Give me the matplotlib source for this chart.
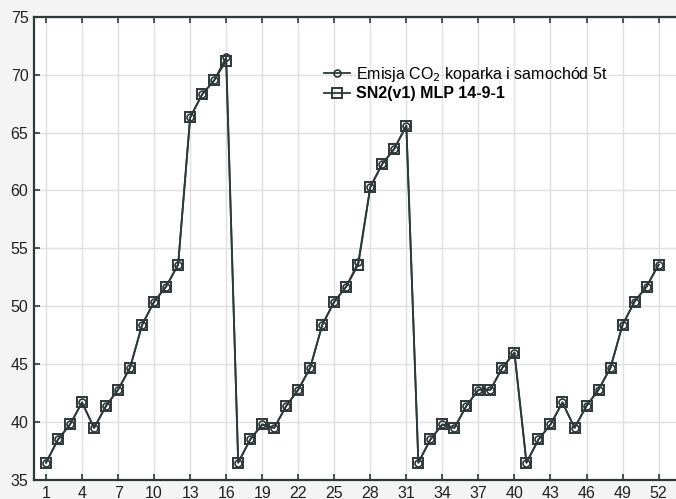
import matplotlib
matplotlib.use("Agg")
import matplotlib.pyplot as plt

x = list(range(1, 53))
emisja = [36.5, 38.5, 39.8, 41.7, 39.5, 41.4, 42.8, 44.7, 48.4, 50.4, 51.7, 53.6,
          66.3, 68.3, 69.5, 71.5, 36.5, 38.5, 39.8, 39.5, 41.4, 42.8, 44.7, 48.4,
          50.4, 51.7, 53.8, 60.3, 62.3, 63.6, 65.6, 36.5, 38.5, 39.8, 39.5, 41.4,
          42.8, 42.8, 44.7, 46.0, 36.5, 38.5, 39.8, 41.7, 39.5, 41.4, 42.8, 44.7,
          48.4, 50.4, 51.7, 53.6]
sn2 = [36.5, 38.5, 39.8, 41.7, 39.5, 41.4, 42.8, 44.7, 48.4, 50.4, 51.7, 53.6,
       66.3, 68.3, 69.5, 71.2, 36.5, 38.5, 39.8, 39.5, 41.4, 42.8, 44.7, 48.4,
       50.4, 51.7, 53.6, 60.3, 62.3, 63.6, 65.6, 36.5, 38.5, 39.8, 39.5, 41.4,
       42.8, 42.8, 44.7, 46.0, 36.5, 38.5, 39.8, 41.7, 39.5, 41.4, 42.8, 44.7,
       48.4, 50.4, 51.7, 53.6]
xticks = list(range(1, 53, 3))
yticks = [35, 40, 45, 50, 55, 60, 65, 70, 75]

plt.rcParams['font.family'] = ['Liberation Sans', 'DejaVu Sans']
col = '#2e3838'

fig = plt.figure(figsize=(6.76, 4.99), dpi=100, facecolor='#f4f4f4')
ax = fig.add_axes([0.0503, 0.038, 0.9497, 0.9285])
ax.set_facecolor('white')

ax.plot(x, emisja, color=col, lw=1.3, marker='o', ms=5, mfc='none', mec=col, mew=1.2,
        label='Emisja CO$_2$ koparka i samochód 5t', zorder=3)
ax.plot(x, sn2, color=col, lw=1.3, marker='s', ms=7, mfc='none', mec=col, mew=1.4,
        label='SN2(v1) MLP 14-9-1', zorder=4)

ax.set_xlim(0.0, 53.45)
ax.set_ylim(35, 75)
ax.set_xticks(xticks)
ax.set_yticks(yticks)
ax.grid(True, color='#e0e0e0', lw=1.0)
ax.set_axisbelow(True)
ax.tick_params(direction='in', length=4, width=1.2, color=col, labelsize=11.5,
               labelcolor='#222222', top=True, right=False, pad=4)
for s in ['left', 'bottom', 'top']:
    ax.spines[s].set_color(col)
    ax.spines[s].set_linewidth(1.6)
ax.spines['right'].set_visible(False)

leg = ax.legend(loc='upper left', bbox_to_anchor=(0.44, 0.913), frameon=False,
                fontsize=11.5, handlelength=1.6, handletextpad=0.4, borderpad=0,
                labelspacing=0.15)
leg.get_texts()[1].set_fontweight('bold')

fig.savefig('out.png', dpi=100, facecolor=fig.get_facecolor())
